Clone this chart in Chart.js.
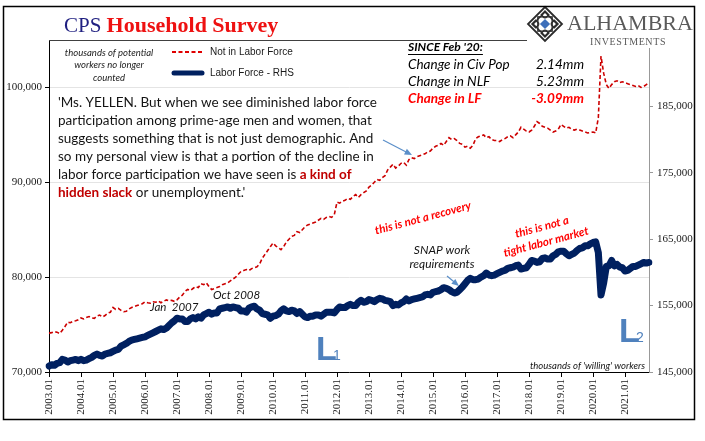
<!DOCTYPE html>
<html>
<head>
<meta charset="utf-8">
<script src="https://cdn.jsdelivr.net/npm/chart.js@4.4.0/dist/chart.umd.min.js"></script>
<style>
  html, body { margin: 0; padding: 0; background: #fff; }
</style>
</head>
<body>
<canvas id="cps" width="705" height="441"></canvas>
<script>
// Not in Labor Force (thousands), monthly from 2003.01 - left axis
let notInLaborForce = [
  74100, 74150, 74250, 74200, 74050, 74400, 74800, 75250, 75200, 75350, 75400, 75500, // 2003
  75700, 75600, 75750, 75850, 75700, 75650, 75900, 76000, 75800, 75950, 76200, 76300, // 2004
  76800, 76600, 76700, 76500, 76350, 76400, 76650, 76800, 76900, 77000, 77100, 77200, // 2005
  77400, 77300, 77250, 77400, 77350, 77500, 77300, 77450, 77600, 77500, 77550, 77450, // 2006
  77600, 77900, 78100, 78500, 78700, 78600, 78800, 79000, 78900, 79300, 79200, 79400, // 2007
  79000, 78700, 78800, 78900, 79000, 79200, 79300, 79400, 79600, 79800, 80000, 80300, // 2008
  80600, 80700, 80800, 80700, 80900, 81000, 81100, 81400, 82000, 82400, 82800, 83200, // 2009
  83600, 83300, 83100, 82900, 83200, 83700, 84000, 84300, 84400, 84800, 84700, 85000, // 2010
  85300, 85500, 85600, 85700, 85800, 86000, 86200, 86100, 86300, 86400, 86300, 86600, // 2011
  87900, 87800, 88000, 88100, 88300, 88200, 88500, 88700, 88400, 88700, 88900, 89100, // 2012
  89500, 89700, 90000, 90300, 90200, 90500, 90700, 91300, 91600, 91900, 91500, 91700, // 2013
  92000, 92100, 91800, 92400, 92600, 92500, 92700, 92800, 92900, 93000, 93200, 93300, // 2014
  93600, 93800, 93900, 94100, 93900, 94300, 94700, 94500, 94600, 94400, 94100, 94000, // 2015
  93700, 93800, 93600, 93900, 94600, 94800, 94900, 95000, 94700, 94800, 94500, 94400, // 2016
  94400, 94300, 94500, 94600, 94800, 94900, 94700, 95000, 95300, 95800, 95600, 95400, // 2017
  95300, 95500, 95900, 96400, 96200, 95900, 95800, 95700, 95500, 95300, 95400, 95600, // 2018
  96100, 95900, 95700, 95800, 95600, 95500, 95600, 95500, 95400, 95300, 95200, 95250, // 2019
  95300, 95200, 96800, 103300, 101500, 100300, 99900, 100300, 100600, 100700, 100500, 100600, // 2020
  100500, 100400, 100300, 100200, 100100, 100200, 100000, 100100, 100300, 100500 // 2021
];

// Labor Force (thousands), monthly from 2003.01 - right axis
let laborForce = [
  145900, 146100, 146000, 146300, 146400, 146900, 146800, 146500, 146700, 146800, 146900, 146700, // 2003
  146900, 146700, 146800, 147000, 147200, 147500, 147700, 147500, 147400, 147700, 147800, 147900, // 2004
  148100, 148300, 148400, 148900, 149100, 149300, 149600, 149800, 149900, 150000, 150100, 150200, // 2005
  150300, 150500, 150700, 150900, 151100, 151300, 151500, 151400, 151600, 152000, 152400, 152700, // 2006
  153100, 153000, 153000, 152600, 152600, 153000, 153200, 153000, 153300, 153100, 153600, 153800, // 2007
  154000, 153700, 153900, 153900, 154500, 154600, 154700, 154800, 154600, 154800, 154700, 154600, // 2008
  154200, 154200, 154000, 154600, 154800, 154900, 154500, 154300, 153800, 153700, 153600, 153100, // 2009
  153400, 153500, 153700, 154200, 154500, 154200, 154100, 154300, 154200, 153800, 154100, 153700, // 2010
  153300, 153200, 153400, 153400, 153600, 153600, 153400, 153700, 154000, 154000, 154000, 153900, // 2011
  154400, 154800, 154700, 154700, 155000, 155200, 155000, 155000, 155500, 155800, 155500, 155600, // 2012
  155900, 155800, 155600, 155900, 156100, 156000, 155800, 155700, 155600, 155000, 155200, 155100, // 2013
  155400, 155600, 156000, 155700, 155900, 156000, 156100, 156200, 156300, 156600, 156700, 156600, // 2014
  157000, 157100, 157200, 157400, 157700, 157600, 157400, 157100, 156900, 157000, 157400, 157800, // 2015
  158300, 158800, 159100, 158900, 158900, 159000, 159300, 159500, 159900, 159600, 159500, 159600, // 2016
  159800, 160000, 160200, 160300, 160600, 160700, 160800, 161000, 161100, 160500, 160600, 160700, // 2017
  161200, 161800, 161700, 161500, 161600, 162100, 162200, 162000, 162000, 162500, 162700, 163100, // 2018
  163200, 163200, 162800, 162500, 162700, 162900, 163300, 163600, 163700, 164000, 164000, 164300, // 2019
  164500, 164600, 163000, 156600, 158400, 160900, 161000, 161800, 161000, 161200, 160800, 160700, // 2020
  160200, 160300, 160600, 160900, 160900, 161100, 161300, 161500, 161400, 161500 // 2021
];

let months = [];
for (let i = 0; i < notInLaborForce.length; i++) {
  let m = (i % 12) + 1;
  months.push((2003 + Math.floor(i / 12)) + "." + (m < 10 ? "0" + m : m));
}

let leftTicks = [70000, 80000, 90000, 100000];
let rightTicks = [145000, 155000, 165000, 175000, 185000];

let serif = '"Liberation Serif", "Times New Roman", serif';
let calibri = 'Lato, "Open Sans", sans-serif';

function arrow(ctx, x1, y1, x2, y2, color) {
  let a = Math.atan2(y2 - y1, x2 - x1);
  ctx.save();
  ctx.strokeStyle = color;
  ctx.fillStyle = color;
  ctx.lineWidth = 1.2;
  ctx.beginPath();
  ctx.moveTo(x1, y1);
  ctx.lineTo(x2 - 5 * Math.cos(a), y2 - 5 * Math.sin(a));
  ctx.stroke();
  ctx.beginPath();
  ctx.moveTo(x2, y2);
  ctx.lineTo(x2 - 8 * Math.cos(a - 0.4), y2 - 8 * Math.sin(a - 0.4));
  ctx.lineTo(x2 - 8 * Math.cos(a + 0.4), y2 - 8 * Math.sin(a + 0.4));
  ctx.closePath();
  ctx.fill();
  ctx.restore();
}

function diamond(ctx, cx, cy, r) {
  ctx.beginPath();
  ctx.moveTo(cx, cy - r);
  ctx.lineTo(cx + r, cy);
  ctx.lineTo(cx, cy + r);
  ctx.lineTo(cx - r, cy);
  ctx.closePath();
}

function drawLogo(ctx) {
  ctx.save();
  ctx.fillStyle = "#fff";
  ctx.fillRect(527, 8, 165, 40);
  let cx = 545, cy = 24, r = 17;
  ctx.strokeStyle = "#2b2b2b";
  ctx.lineWidth = 1.8;
  diamond(ctx, cx, cy, r);
  ctx.stroke();
  ctx.lineWidth = 1.4;
  diamond(ctx, cx, cy, r * 0.7);
  ctx.stroke();
  [[0, -1], [1, 0], [0, 1], [-1, 0]].forEach(([dx, dy]) => {
    diamond(ctx, cx + dx * r * 0.55, cy + dy * r * 0.55, r * 0.22);
    ctx.stroke();
  });
  ctx.strokeRect(cx - r * 0.42, cy - r * 0.42, r * 0.84, r * 0.84);
  ctx.fillStyle = "#fff";
  diamond(ctx, cx, cy, r * 0.36);
  ctx.fill();
  ctx.fillStyle = "#3d6fba";
  diamond(ctx, cx, cy, r * 0.3);
  ctx.fill();
  ctx.fillStyle = "#5a5a5a";
  ctx.textBaseline = "alphabetic";
  ctx.font = "22px " + serif;
  ctx.fillText("ALHAMBRA", 567, 30);
  ctx.font = "10px " + serif;
  ctx.letterSpacing = "0.6px";
  ctx.fillText("INVESTMENTS", 590, 45);
  ctx.restore();
}

let decorations = {
  id: "decorations",
  beforeDraw(chart) {
    let ctx = chart.ctx;
    ctx.save();
    ctx.fillStyle = "#fff";
    ctx.fillRect(0, 0, chart.width, chart.height);
    ctx.restore();
  },
  afterDraw(chart) {
    let ctx = chart.ctx;
    let area = chart.chartArea;
    ctx.save();

    // plot area top edge
    ctx.strokeStyle = "#404040";
    ctx.lineWidth = 1;
    ctx.beginPath();
    ctx.moveTo(area.left, area.top + 0.5);
    ctx.lineTo(area.right, area.top + 0.5);
    ctx.stroke();

    drawLogo(ctx);

    // outer frame
    ctx.strokeStyle = "#000";
    ctx.lineWidth = 1.5;
    ctx.strokeRect(3.5, 6.5, 691, 413);

    // title
    ctx.textBaseline = "alphabetic";
    ctx.font = "21px " + serif;
    ctx.fillStyle = "#1f1f80";
    ctx.fillText("CPS", 64, 32);
    let tx = 64 + ctx.measureText("CPS ").width;
    ctx.font = "bold 22px " + serif;
    ctx.fillStyle = "#ee1111";
    ctx.fillText("Household Survey", tx, 32);

    // legend
    ctx.textBaseline = "middle";
    ctx.font = "italic 9.5px " + calibri;
    ctx.fillStyle = "#1a1a1a";
    ctx.textAlign = "center";
    ctx.fillText("thousands of potential", 109, 53);
    ctx.fillText("workers no longer", 109, 65);
    ctx.fillText("counted", 109, 78);
    ctx.textAlign = "left";
    ctx.strokeStyle = "#e00000";
    ctx.lineWidth = 2;
    ctx.setLineDash([4, 2.5]);
    ctx.beginPath();
    ctx.moveTo(172, 52);
    ctx.lineTo(203, 52);
    ctx.stroke();
    ctx.setLineDash([]);
    ctx.strokeStyle = "#002060";
    ctx.lineWidth = 5;
    ctx.lineCap = "round";
    ctx.beginPath();
    ctx.moveTo(174, 73);
    ctx.lineTo(202, 73);
    ctx.stroke();
    ctx.lineCap = "butt";
    ctx.font = '10px "Liberation Sans", Arial, sans-serif';
    ctx.fillStyle = "#1a1a1a";
    ctx.fillText("Not in Labor Force", 210, 52);
    ctx.fillText("Labor Force - RHS", 210, 73);

    // quote
    let quote = [
      [["'Ms. YELLEN. But when we see diminished labor force", false]],
      [["participation among prime-age men and women, that", false]],
      [["suggests something that is not just demographic. And", false]],
      [["so my personal view is that a portion of the decline in", false]],
      [["labor force participation we have seen is ", false], ["a kind of", true]],
      [["hidden slack", true], [" or unemployment.'", false]],
    ];
    ctx.font = "14px " + calibri;
    let qSize = 14 * 319 / ctx.measureText(quote[0][0][0]).width;
    quote.forEach((line, i) => {
      let x = 58;
      line.forEach(([s, bold]) => {
        ctx.font = (bold ? "bold " : "") + qSize + "px " + calibri;
        ctx.fillStyle = bold ? "#c00000" : "#141414";
        ctx.fillText(s, x, 103 + i * 18);
        x += ctx.measureText(s).width;
      });
    });
    arrow(ctx, 383, 140, 412, 155, "#5b8fc9");

    // SINCE Feb '20 box
    ctx.font = "bold italic 12px " + calibri;
    ctx.fillStyle = "#000";
    ctx.fillText("SINCE Feb '20:", 408, 47);
    let w = ctx.measureText("SINCE Feb '20:").width;
    ctx.fillRect(408, 54, w, 1);
    let rows = [
      ["Change in Civ Pop", "2.14mm", "#000", 65, ""],
      ["Change in NLF", "5.23mm", "#000", 82, ""],
      ["Change in LF", "-3.09mm", "#ff0000", 99, "bold "],
    ];
    rows.forEach(([a, b, c, y, weight]) => {
      ctx.font = weight + "italic 13.5px " + calibri;
      ctx.fillStyle = c;
      ctx.textAlign = "left";
      ctx.fillText(a, 408, y);
      ctx.textAlign = "right";
      ctx.fillText(b, 584, y);
    });
    ctx.textAlign = "left";

    // date notes
    ctx.font = "italic 11.5px " + calibri;
    ctx.fillStyle = "#141414";
    ctx.fillText("Jan  2007", 150, 307);
    ctx.fillText("Oct 2008", 213, 295);

    // SNAP
    ctx.textAlign = "center";
    ctx.font = "italic 12px " + calibri;
    ctx.fillText("SNAP work", 442, 250);
    ctx.fillText("requirements", 442, 264);
    arrow(ctx, 447, 276, 459, 286, "#5b8fc9");

    // red rotated comments
    ctx.fillStyle = "#ff0000";
    ctx.font = "bold italic 11.5px " + calibri;
    [["this is not a recovery", 423, 218], ["this is not a", 542, 227], ["tight labor market", 546, 242]].forEach(([s, x, y]) => {
      ctx.save();
      ctx.translate(x, y);
      ctx.rotate(-15 * Math.PI / 180);
      ctx.fillText(s, 0, 0);
      ctx.restore();
    });
    ctx.textAlign = "left";

    // L1, L2
    ctx.fillStyle = "#4f81bd";
    ctx.textBaseline = "alphabetic";
    ctx.font = 'bold 34px "Liberation Sans", Arial, sans-serif';
    ctx.fillText("L", 316, 360);
    ctx.fillText("L", 619, 342);
    ctx.font = '14px "Liberation Sans", Arial, sans-serif';
    ctx.fillText("1", 333, 360);
    ctx.fillText("2", 636, 342);

    // bottom-right note
    ctx.textBaseline = "middle";
    ctx.textAlign = "right";
    ctx.font = "italic 9.5px " + calibri;
    ctx.fillStyle = "#141414";
    ctx.fillText("thousands of 'willing' workers", 645, 366);
    ctx.restore();
  }
};

let cpsChart = new Chart(document.getElementById("cps").getContext("2d"), {
  type: "line",
  data: {
    labels: months,
    datasets: [
      {
        label: "Not in Labor Force",
        data: notInLaborForce,
        yAxisID: "y",
        borderColor: "#cc0000",
        borderWidth: 1.6,
        borderDash: [4, 2.5],
        pointRadius: 0,
        tension: 0,
      },
      {
        label: "Labor Force - RHS",
        data: laborForce,
        yAxisID: "y1",
        borderColor: "#002060",
        borderWidth: 7,
        borderJoinStyle: "round",
        borderCapStyle: "round",
        pointRadius: 0,
        tension: 0,
      },
    ],
  },
  options: {
    responsive: false,
    animation: false,
    layout: { padding: { top: 40, left: 0, right: 0, bottom: 0 } },
    plugins: {
      legend: { display: false },
      tooltip: { enabled: false },
    },
    scales: {
      x: {
        offset: false,
        afterBuildTicks: (s) => { s.ticks = s.ticks.filter((t) => months[t.value].endsWith(".01")); },
        afterFit: (s) => { s.height = 69; },
        ticks: {
          autoSkip: false,
          minRotation: 90,
          maxRotation: 90,
          padding: 2,
          color: "#1a1a1a",
          font: { family: serif, size: 11 },
        },
        grid: { drawOnChartArea: false, tickLength: 5, tickColor: "#000" },
        border: { color: "#000" },
      },
      y: {
        position: "left",
        min: 70000,
        max: 105000,
        afterBuildTicks: (s) => { s.ticks = leftTicks.map((v) => ({ value: v })); },
        afterFit: (s) => { s.width = 49; },
        ticks: {
          padding: 3,
          color: "#1a1a1a",
          font: { family: serif, size: 11 },
          callback: (v) => v.toLocaleString("en-US"),
        },
        grid: { color: "#e4e4e4", tickColor: "#000", tickLength: 4 },
        border: { color: "#000" },
      },
      y1: {
        position: "right",
        min: 145000,
        max: 195000,
        afterBuildTicks: (s) => { s.ticks = rightTicks.map((v) => ({ value: v })); },
        afterFit: (s) => { s.width = 56; },
        ticks: {
          padding: 4,
          color: "#1a1a1a",
          font: { family: serif, size: 11 },
          callback: (v) => v.toLocaleString("en-US"),
        },
        grid: { drawOnChartArea: false, tickColor: "#999", tickLength: 4 },
        border: { color: "#999" },
      },
    },
  },
  plugins: [decorations],
});
</script>
</body>
</html>
